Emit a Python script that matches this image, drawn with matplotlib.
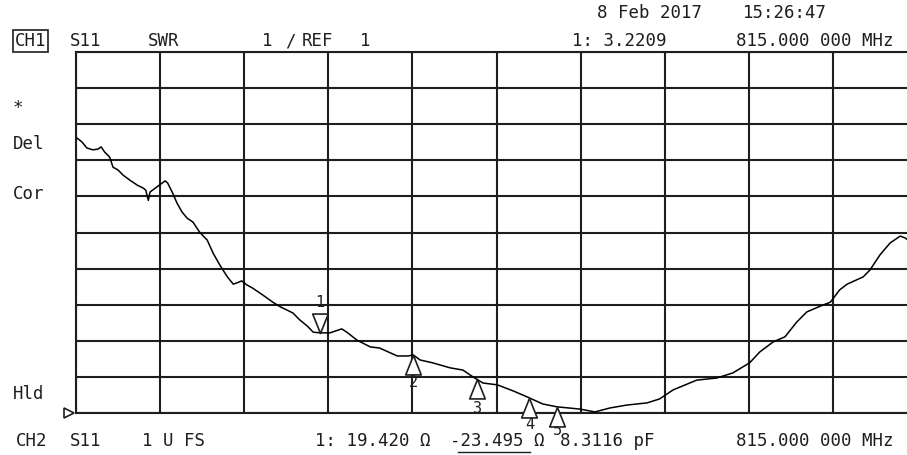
import numpy as np
import matplotlib
matplotlib.use('Agg')
import matplotlib.pyplot as plt
from matplotlib.path import Path
from matplotlib.lines import Line2D

W, H = 907, 455

# SWR trace (x in graticule divisions, 0..10)
x_div = [0.01, 0.07, 0.13, 0.20, 0.26, 0.30, 0.34, 0.40, 0.44, 0.50,
         0.56, 0.64, 0.73, 0.80, 0.83, 0.86, 0.88, 0.96, 1.06, 1.09,
         1.15, 1.20, 1.26, 1.32, 1.39, 1.47, 1.56, 1.63, 1.71, 1.80,
         1.87, 1.91, 1.97, 2.03, 2.10, 2.22, 2.34, 2.43, 2.58, 2.66,
         2.75, 2.82, 2.90, 3.02, 3.16, 3.22, 3.34, 3.50, 3.61, 3.82,
         3.95, 4.01, 4.09, 4.24, 4.45, 4.60, 4.72, 4.84, 5.01, 5.20,
         5.37, 5.55, 5.72, 5.99, 6.17, 6.35, 6.55, 6.79, 6.94, 7.10,
         7.38, 7.62, 7.81, 8.01, 8.13, 8.29, 8.43, 8.57, 8.69, 8.85,
         8.97, 9.08, 9.17, 9.36, 9.44, 9.56, 9.68, 9.80, 9.86, 9.92]
swr = [8.62, 8.51, 8.34, 8.29, 8.31, 8.37, 8.23, 8.09, 7.81, 7.73,
       7.59, 7.45, 7.31, 7.23, 7.17, 6.89, 7.12, 7.26, 7.43, 7.37,
       7.09, 6.82, 6.57, 6.40, 6.29, 6.01, 5.79, 5.43, 5.10, 4.77,
       4.57, 4.60, 4.66, 4.55, 4.46, 4.27, 4.07, 3.94, 3.77, 3.58,
       3.41, 3.24, 3.22, 3.22, 3.33, 3.24, 3.02, 2.83, 2.80, 2.58,
       2.58, 2.61, 2.47, 2.39, 2.25, 2.19, 2.00, 1.83, 1.78, 1.61,
       1.44, 1.25, 1.17, 1.11, 1.03, 1.14, 1.22, 1.28, 1.39, 1.64,
       1.91, 1.97, 2.11, 2.39, 2.69, 2.97, 3.11, 3.52, 3.80, 3.96,
       4.07, 4.41, 4.57, 4.77, 4.96, 5.38, 5.71, 5.90, 5.85, 5.74]

# markers (1 = active, 2..5 = delta)
marker_ids = ['1', '2', '3', '4', '5']
marker_x = [2.90, 4.01, 4.77, 5.39, 5.72]

ref_value = 1.0
scale_per_div = 1.0
n_div = 10

ink = '#1e1e1e'
plt.rcParams['font.family'] = ['DejaVu Sans Mono', 'DejaVu Sans']

fig = plt.figure(figsize=(W / 100, H / 100), dpi=100)
fig.patch.set_facecolor('white')
ax = fig.add_axes([76 / W, (H - 413) / H, 841 / W, 361 / H])

ax.set_xlim(0, n_div)
ax.set_ylim(ref_value, ref_value + scale_per_div * n_div)
ax.set_xticks(np.arange(0, n_div + 1))
ax.set_yticks(np.arange(ref_value, ref_value + scale_per_div * n_div + 0.5, scale_per_div))
ax.tick_params(length=0, labelbottom=False, labelleft=False)
ax.grid(True, color=ink, lw=1.5)
for side in ['left', 'top', 'bottom']:
    ax.spines[side].set_color(ink)
    ax.spines[side].set_linewidth(1.5)
ax.spines['right'].set_visible(False)

ax.plot(x_div, swr, color='black', lw=1.1, zorder=3)

# marker triangles with tip on the trace
down_tri = Path([(0, 0), (-0.4, 1), (0.4, 1), (0, 0)],
                [Path.MOVETO, Path.LINETO, Path.LINETO, Path.CLOSEPOLY])
up_tri = Path([(0, 0), (-0.4, -1), (0.4, -1), (0, 0)],
              [Path.MOVETO, Path.LINETO, Path.LINETO, Path.CLOSEPOLY])
marker_y = np.interp(marker_x, x_div, swr)
label_off = {'1': 22, '2': -20, '3': -21, '4': -19, '5': -17}
for mid, mx, my in zip(marker_ids, marker_x, marker_y):
    shape = down_tri if mid == '1' else up_tri
    ax.plot(mx, my, marker=shape, ms=28, mfc='white', mec=ink, mew=1.2,
            zorder=4, clip_on=False)
    ax.annotate(mid, (mx, my), xytext=(0, label_off[mid]), textcoords='offset points',
                ha='center', va='center', fontsize=11, color=ink,
                annotation_clip=False)

# reference position pointer
ax.plot(-0.08, ref_value, marker='>', ms=7, mfc='white', mec=ink, mew=1.2,
        clip_on=False)


def put(px, py, s, **kw):
    fig.text(px / W, 1 - py / H, s, ha='left', va='center', fontsize=12.5,
             color=ink, **kw)


put(597, 13, '8 Feb 2017')
put(743, 13, '15:26:47')
put(15, 41, 'CH1', bbox=dict(boxstyle='square,pad=0.1', fc='white', ec=ink, lw=1.2))
put(70, 41, 'S11')
put(148, 41, 'SWR')
put(262, 41, '1')
put(285, 41, '/')
put(302, 41, 'REF')
put(360, 41, '1')
put(572, 41, '1: 3.2209')
put(736, 41, '815.000 000 MHz')

put(13, 108, '*')
put(13, 144, 'Del')
put(13, 194, 'Cor')
put(13, 394, 'Hld')

put(16, 441, 'CH2')
put(70, 441, 'S11')
put(142, 441, '1 U FS')
put(315, 441, '1: 19.420 Ω')
put(450, 441, '-23.495 Ω')
put(560, 441, '8.3116 pF')
put(736, 441, '815.000 000 MHz')
fig.add_artist(Line2D([458 / W, 530 / W], [1 - 452 / H, 1 - 452 / H],
                      color=ink, lw=1.0))

fig.savefig('out.png', dpi=100)
